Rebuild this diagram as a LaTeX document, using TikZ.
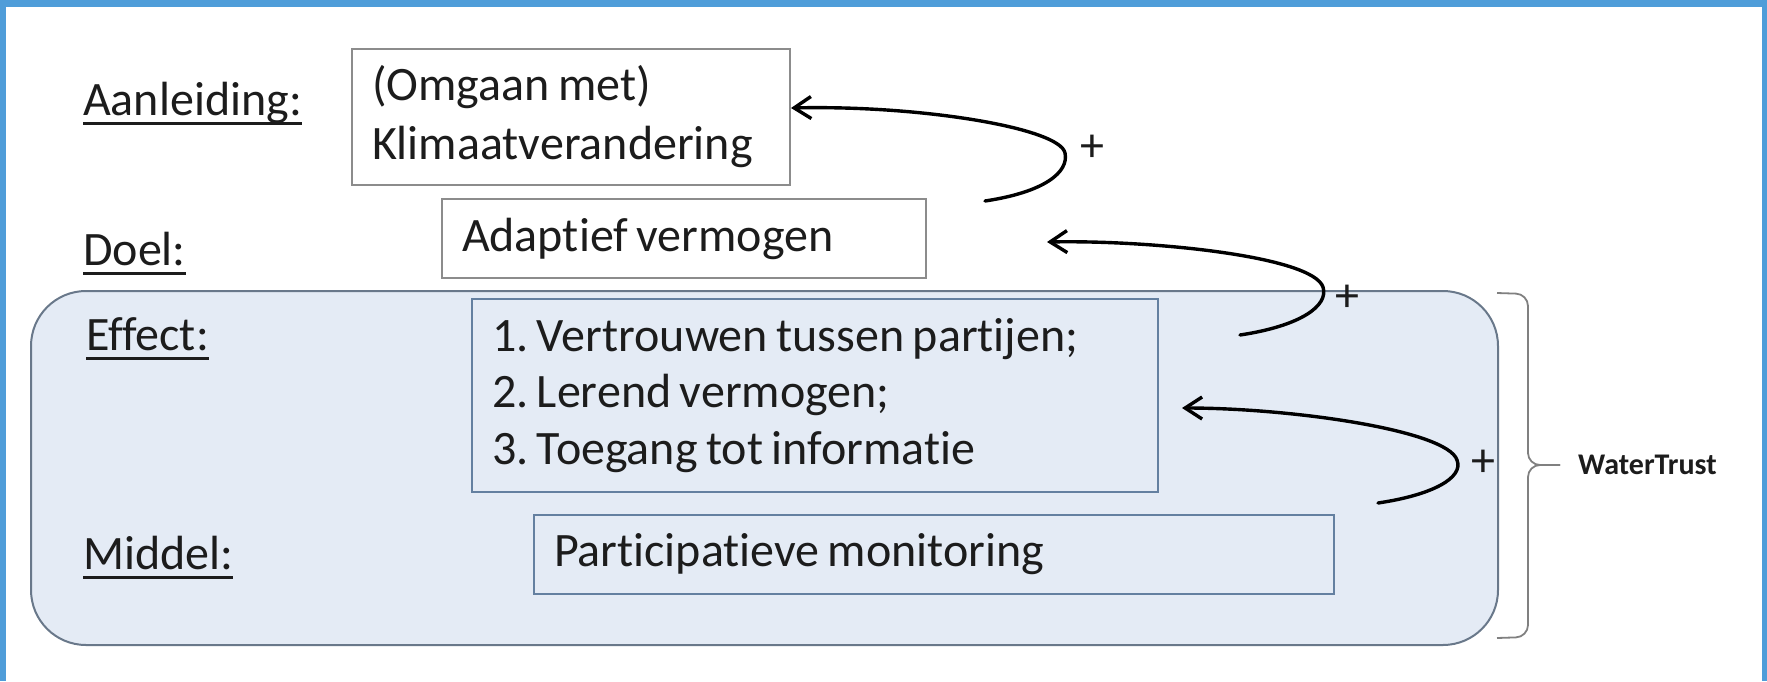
\documentclass[tikz,border=0pt]{standalone}
\usepackage{fontspec}
\setmainfont{Carlito}[Ligatures={NoCommon}]
\usepackage{tikz}
\usepackage{xcolor}
\usetikzlibrary{arrows.meta}
\frenchspacing

\definecolor{frameblue}{RGB}{79,157,217}
\definecolor{panelfill}{RGB}{228,235,245}
\definecolor{paneldraw}{RGB}{105,120,138}
\definecolor{boxgrey}{RGB}{140,140,140}
\definecolor{boxblue}{RGB}{100,128,160}
\definecolor{bracegrey}{RGB}{128,128,128}
\definecolor{inkgrey}{RGB}{28,28,28}

\newcommand{\ullabel}[1]{\setbox0\hbox{#1}\rlap{\rule[-9.5pt]{\wd0}{2.8pt}}\box0}

\begin{document}
\begin{tikzpicture}[x=1pt,y=-1pt]
\tikzstyle{every node}+=[inner sep=0pt, text=inkgrey, font=\fontsize{48}{59}\selectfont]
\tikzstyle{textbox}=[draw, line width=2pt, anchor=north west, inner xsep=20pt, align=left, execute at begin node={\spaceskip=8.5pt\relax}]
\tikzstyle{plusarrow}=[-{Straight Barb[length=17pt,width=22pt]}, line width=3.4pt, line cap=round, black]
\useasboundingbox (0,0) rectangle (1767,681);
% frame
\fill [frameblue] (0,0) rectangle (1767,7);
\fill [frameblue] (0,0) rectangle (6,681);
\fill [frameblue] (1762,0) rectangle (1767,681);
% WaterTrust panel
\node [draw=paneldraw, fill=panelfill, line width=2pt, rounded corners=55pt, anchor=north west, minimum width=1467, minimum height=354] (panel) at (30,290) {};
% boxes
\node [textbox, draw=boxgrey, fill=white, minimum width=438, minimum height=136, text width=398] (aan) at (351,48) {(Omgaan met)\\Klimaatverandering};
\node [textbox, draw=boxgrey, fill=white, minimum width=484, minimum height=79, text width=444] (doel) at (441,198) {Adaptief vermogen};
\node [textbox, draw=boxblue, fill=panelfill, minimum width=686, minimum height=193, text width=646, font=\fontsize{48}{56.5}\selectfont] (eff) at (471,298) {1. Vertrouwen tussen partijen;\\2. Lerend vermogen;\\3. Toegang tot informatie};
\node [textbox, draw=boxblue, fill=panelfill, minimum width=800, minimum height=79, text width=760] (mid) at (533,514) {Participatieve monitoring};
% labels
\node [anchor=base west] (laan) at (83,115) {\ullabel{Aanleiding:}};
\node [anchor=base west] (ldoel) at (83,265) {\ullabel{Doel:}};
\node [anchor=base west] (leff) at (86,350) {\ullabel{Effect:}};
\node [anchor=base west] (lmid) at (83,569) {\ullabel{Middel:}};
% arrows
\coordinate (tail1) at (985,201);
\coordinate (bend1) at (1065,153);
\coordinate (tail2) at (1240,335);
\coordinate (bend2) at (1323,287);
\coordinate (tip2) at (1047,242);
\coordinate (tail3) at (1378,503);
\coordinate (bend3) at (1457,460);
\coordinate (tip3) at (1182,408);
\draw [plusarrow] (tail1) .. controls (1045,192) and (1069,172) .. (bend1) .. controls (1060,128) and (920,105) .. ([yshift=9pt]aan.east);
\draw [plusarrow] (tail2) .. controls (1300,326) and (1329,306) .. (bend2) .. controls (1312,256) and (1150,240) .. (tip2);
\draw [plusarrow] (tail3) .. controls (1432,495) and (1464,478) .. (bend3) .. controls (1447,430) and (1290,408) .. (tip3);
\node (plus1) at (1092,148) {+};
\node (plus2) at (1347,298) {+};
\node (plus3) at (1483,463) {+};
% brace
\draw [bracegrey, line width=1.8pt, rounded corners=12pt] (1497,293) -- (1528,294) -- (1528,465) -- (1560,465);
\draw [bracegrey, line width=1.8pt, rounded corners=12pt] (1560,465) -- (1528,465) -- (1528,637) -- (1497,638);
\node [anchor=west, font=\fontsize{30}{36}\selectfont\bfseries] (wtlabel) at (1578,465) {WaterTrust};
\end{tikzpicture}
\end{document}
